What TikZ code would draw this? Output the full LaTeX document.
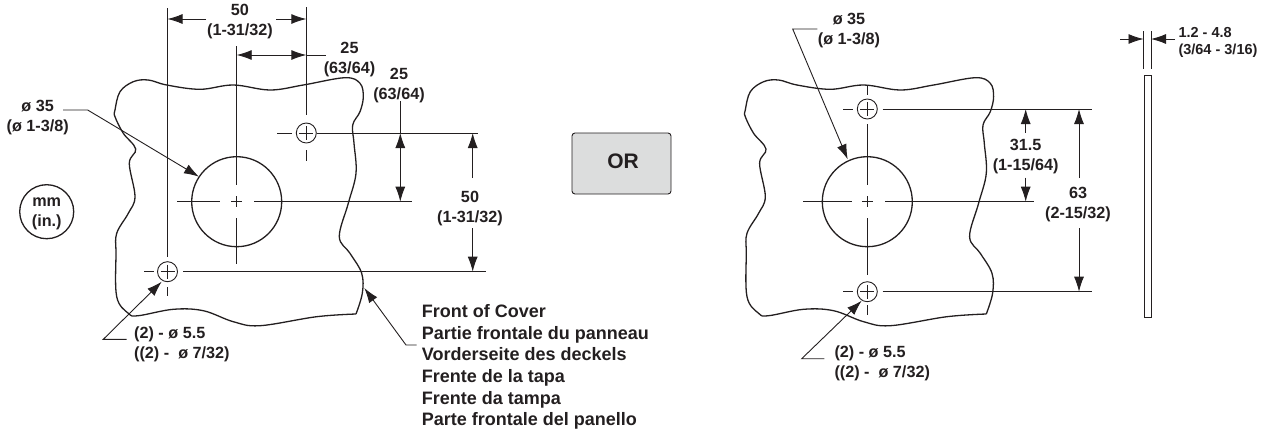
\documentclass[tikz,border=0pt]{standalone}
\usepackage{fontspec}
\setmainfont{Liberation Sans}
\usetikzlibrary{arrows.meta}
\definecolor{inkdark}{HTML}{231F20}
\definecolor{boxgray}{HTML}{DCDDDD}
\tikzset{
    thinline/.style = {line width=0.9pt, color=inkdark},
    coverline/.style = {line width=1.3pt, color=inkdark},
    dimarrow/.style = {thinline, -{Latex[length=15pt,width=10pt]}},
    dimboth/.style = {thinline, {Latex[length=15pt,width=10pt]}-{Latex[length=15pt,width=10pt]}},
    dimtext/.style = {font = {\bfseries\fontsize{16.2}{20}\selectfont}, text=inkdark, align=center, inner sep=0pt},
    listtext/.style = {font = {\bfseries\fontsize{18}{21.6}\selectfont}, text=inkdark, align=left, inner sep=0pt, anchor=west},
}
\newcommand{\coveroutline}[1]{
    \draw[coverline, shift={(#1,0)}] plot[smooth, tension=0.6] coordinates {
        (356,314) (316.7,316.7) (260,325.7) (233.3,321.7) (203.3,310.7) (173.3,309.3)
        (138.3,315.7) (128.3,313.3) (116.7,296.7) (116,253.3) (116.7,233.3) (128.3,213.3)
        (135,196.7) (129.3,163.3) (135.7,149) (123.3,133.3) (115,116.7) (115,110)
        (120,91.7) (133.3,81.7) (148.3,80) (166.7,85) (200,89.3) (233.3,85) (270,90)
        (303.3,85) (345,77.7) (360,83.3) (363.3,96.7) (360,111.7) (352.7,125) (354,143.3)
        (356,173.3) (348.3,203.3) (339.3,236.7) (350,253.3) (361.7,273.3) (362.3,293.3) (356,314)};
}
% small cross in the middle of a hole
\newcommand{\centermark}[3]{
    \draw[thinline] (#1-#3,#2) -- (#1+#3,#2);
    \draw[thinline] (#1,#2-#3) -- (#1,#2+#3);
}

\begin{document}
\begin{tikzpicture}[x=1pt,y=-1pt]
    \useasboundingbox (0,0) rectangle (1275,434);

    % left cover
    \coveroutline{0}
    \node[draw, coverline, circle, minimum size=90pt, inner sep=0pt] (bigholeL) at (236.7,201.7) {};
    \node[draw, thinline, circle, minimum size=20pt, inner sep=0pt] (upholeL) at (306.3,133) {};
    \node[draw, thinline, circle, minimum size=20pt, inner sep=0pt] (lowholeL) at (167.5,271.7) {};
    \centermark{236.7}{201.7}{5.5}
    \centermark{306.3}{133}{7}
    \centermark{167.5}{271.7}{7}

    \draw[thinline] (167.5,8) -- (167.5,257);
    \draw[thinline] (167.5,287) -- (167.5,296);
    \draw[thinline] (144,271.7) -- (153.5,271.7);
    \draw[thinline] (183.3,271.7) -- (486,271.7);
    \draw[thinline] (306.3,7) -- (306.3,115);
    \draw[thinline] (306.3,150) -- (306.3,161);
    \draw[thinline] (277.3,133) -- (292,133);
    \draw[thinline] (316.7,133) -- (477.7,133);
    \draw[thinline] (236.7,46) -- (236.7,185);
    \draw[thinline] (236.7,218) -- (236.7,264);
    \draw[thinline] (177,201.7) -- (220,201.7);
    \draw[thinline] (254,201.7) -- (411.7,201.7);

    \node[dimtext] (dimtopL) at (240,21.5) {50\\(1-31/32)};
    \draw[dimarrow] (206,19) -- (167.5,19);
    \draw[dimarrow] (276,19) -- (306.3,19);

    \node[dimtext] (dimholeL) at (349.5,59.5) {25\\(63/64)};
    \draw[dimboth] (236.7,55) -- (306.3,55);
    \draw[thinline] (306.3,55) -- (325.7,55);

    \node[dimtext] (dimupL) at (399,85.5) {25\\(63/64)};
    \draw[thinline] (400.3,101) -- (400.3,133);
    \draw[dimboth] (400.3,133) -- (400.3,201.7);

    \node[dimtext] (dimsideL) at (470,208.5) {50\\(1-31/32)};
    \draw[dimarrow] (472.7,178) -- (472.7,133);
    \draw[dimarrow] (472.7,228) -- (472.7,271.7);

    \node[dimtext] (bigtextL) at (37.7,117.5) {ø 35\\(ø 1-3/8)};
    \coordinate (bigtipL) at (199,176.7);
    \draw[dimarrow] (63,110) -- (87.7,110) -- (bigtipL);

    \node[dimtext, align=left, anchor=west] (holetextL) at (134,344) {(2) - ø 5.5\\((2) -\ \ ø 7/32)};
    \coordinate (holetipL) at (161.7,281.7);
    \draw[dimarrow] (126.7,339.3) -- (103.3,339.3) -- (holetipL);

    \node[draw, coverline, circle, minimum size=54pt, inner sep=0pt] (unitring) at (46.7,211.7) {};
    \node[dimtext] (unittext) at (46.7,214) {mm\\(in.)};

    \node[listtext] (frontlist) at (421.7,367) {Front of Cover\\Partie frontale du panneau\\Vorderseite des deckels\\Frente de la tapa\\Frente da tampa\\Parte frontale del panello};
    \coordinate (fronttip) at (364.3,288);
    \draw[dimarrow] (416.7,345) -- (406,345) -- (fronttip);

    % or box
    \node[draw, thinline, fill=boxgray, rounded corners=3pt, minimum width=99pt, minimum height=61pt, inner sep=0pt] (orbox) at (621.5,163.5) {};
    \node[text=inkdark, inner sep=0pt, font = {\bfseries\fontsize{21}{24}\selectfont}] (ortext) at (623,161) {OR};

    % right cover
    \coveroutline{630.3}
    \node[draw, coverline, circle, minimum size=90pt, inner sep=0pt] (bigholeR) at (867.3,201.7) {};
    \node[draw, thinline, circle, minimum size=20pt, inner sep=0pt] (upholeR) at (867.3,109) {};
    \node[draw, thinline, circle, minimum size=20pt, inner sep=0pt] (lowholeR) at (867.3,291.7) {};
    \centermark{867.3}{201.7}{5.5}
    \centermark{867.3}{109}{7}
    \centermark{867.3}{291.7}{7}

    \draw[thinline] (867.3,85) -- (867.3,95);
    \draw[thinline] (867.3,124) -- (867.3,185);
    \draw[thinline] (867.3,218) -- (867.3,275);
    \draw[thinline] (867.3,305) -- (867.3,315);
    \draw[thinline] (803.3,201.7) -- (851.7,201.7);
    \draw[thinline] (885,201.7) -- (1034,201.7);
    \draw[thinline] (843.3,109) -- (852.7,109);
    \draw[thinline] (882.7,109) -- (1091.7,109);
    \draw[thinline] (843.3,291.7) -- (852.7,291.7);
    \draw[thinline] (882.7,291.7) -- (1091.7,291.7);

    \node[dimtext] (dimupR) at (1025.7,156.5) {31.5\\(1-15/64)};
    \draw[dimarrow] (1025.7,132.7) -- (1025.7,109);
    \draw[dimarrow] (1025.7,177.7) -- (1025.7,201.7);

    \node[dimtext] (dimsideR) at (1078,204.5) {63\\(2-15/32)};
    \draw[dimarrow] (1079,178) -- (1079,109);
    \draw[dimarrow] (1079,228) -- (1079,291.7);

    \node[dimtext] (bigtextR) at (849,30.5) {ø 35\\(ø 1-3/8)};
    \coordinate (bigtipR) at (847.7,159.3);
    \draw[dimarrow] (817.3,29) -- (792.7,29) -- (bigtipR);

    \node[dimtext, align=left, anchor=west] (holetextR) at (834.3,363.5) {(2) - ø 5.5\\((2) -\ \ ø 7/32)};
    \coordinate (holetipR) at (861.7,300.7);
    \draw[dimarrow] (824.3,358.7) -- (801.7,358.7) -- (holetipR);

    % side plate
    \node[draw, coverline, minimum width=7pt, minimum height=242pt, inner sep=0pt] (plate) at (1147.8,196.3) {};
    \draw[thinline] (1143.5,31) -- (1143.5,69.3);
    \draw[thinline] (1151,31) -- (1151,69.3);
    \draw[dimarrow] (1120,39) -- (1143.5,39);
    \draw[dimarrow] (1175,39) -- (1151,39);
    \node[dimtext, align=left, anchor=west, font = {\bfseries\fontsize{14.5}{17}\selectfont}] (platetext) at (1178.3,42) {1.2 - 4.8\\(3/64 - 3/16)};
\end{tikzpicture}
\end{document}
